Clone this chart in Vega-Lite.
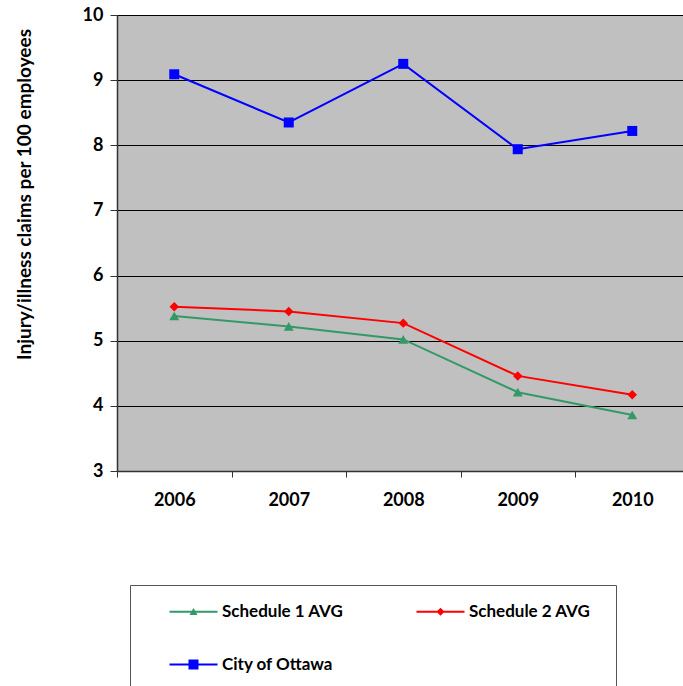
{
  "$schema": "https://vega.github.io/schema/vega-lite/v6.json",
  "width": 566,
  "height": 456,
  "autosize": {"type": "none"},
  "padding": {"left": 117, "top": 15, "right": 0, "bottom": 215},
  "background": "white",
  "config": {
    "view": {"fill": "#C0C0C0", "stroke": "#808080", "strokeWidth": 1},
    "font": "Lato"
  },
  "data": {
    "values": [
      {"series": "City of Ottawa", "year": "2006", "value": 9.09},
      {"series": "City of Ottawa", "year": "2007", "value": 8.35},
      {"series": "City of Ottawa", "year": "2008", "value": 9.25},
      {"series": "City of Ottawa", "year": "2009", "value": 7.94},
      {"series": "City of Ottawa", "year": "2010", "value": 8.22},
      {"series": "Schedule 2 AVG", "year": "2006", "value": 5.52},
      {"series": "Schedule 2 AVG", "year": "2007", "value": 5.45},
      {"series": "Schedule 2 AVG", "year": "2008", "value": 5.27},
      {"series": "Schedule 2 AVG", "year": "2009", "value": 4.46},
      {"series": "Schedule 2 AVG", "year": "2010", "value": 4.17},
      {"series": "Schedule 1 AVG", "year": "2006", "value": 5.38},
      {"series": "Schedule 1 AVG", "year": "2007", "value": 5.22},
      {"series": "Schedule 1 AVG", "year": "2008", "value": 5.02},
      {"series": "Schedule 1 AVG", "year": "2009", "value": 4.21},
      {"series": "Schedule 1 AVG", "year": "2010", "value": 3.86}
    ]
  },
  "encoding": {
    "x": {
      "field": "year", "type": "ordinal", "bandPosition": 0.5,
      "scale": {"type": "band", "range": [0, 572.5], "paddingInner": 0, "paddingOuter": 0},
      "axis": {
        "title": null, "labelAngle": 0, "tickBand": "extent", "grid": false,
        "domainColor": "#333333", "domainWidth": 1.5, "tickColor": "#333333", "tickSize": 6,
        "labelFont": "Lato", "labelFontSize": 18, "labelFontWeight": "bold", "labelColor": "black",
        "labelPadding": 14
      }
    },
    "y": {
      "field": "value", "type": "quantitative",
      "scale": {"domain": [3, 10], "nice": false, "zero": false},
      "axis": {
        "title": "Injury/illness claims per 100 employees",
        "values": [3, 4, 5, 6, 7, 8, 9, 10],
        "grid": true, "gridColor": "black", "gridWidth": 1,
        "domainColor": "#333333", "domainWidth": 1.5, "tickColor": "#333333", "tickSize": 7,
        "labelFont": "Lato", "labelFontSize": 18, "labelFontWeight": "bold", "labelColor": "black",
        "labelPadding": 7,
        "titleFont": "Lato", "titleFontSize": 19, "titleFontWeight": "bold", "titleColor": "black",
        "titleX": -93, "titleY": 179, "titleAngle": 270, "titleBaseline": "middle", "titleAlign": "center"
      }
    }
  },
  "layer": [
    {
      "transform": [{"filter": "datum.series == 'Schedule 1 AVG'"}],
      "mark": {"type": "line", "strokeWidth": 2, "color": "#339966"}
    },
    {
      "transform": [{"filter": "datum.series == 'Schedule 2 AVG'"}],
      "mark": {"type": "line", "strokeWidth": 2, "color": "#FF0000"}
    },
    {
      "transform": [{"filter": "datum.series == 'City of Ottawa'"}],
      "mark": {"type": "line", "strokeWidth": 2, "color": "#0000FF"}
    },
    {
      "transform": [{"filter": "datum.series == 'Schedule 1 AVG'"}],
      "mark": {"type": "point", "filled": true, "shape": "triangle-up", "size": 100, "color": "#339966", "opacity": 1}
    },
    {
      "transform": [{"filter": "datum.series == 'Schedule 2 AVG'"}],
      "mark": {"type": "point", "filled": true, "shape": "diamond", "size": 90, "color": "#FF0000", "opacity": 1}
    },
    {
      "transform": [{"filter": "datum.series == 'City of Ottawa'"}],
      "mark": {"type": "point", "filled": true, "shape": "square", "size": 100, "color": "#0000FF", "opacity": 1}
    },
    {
      "mark": {"type": "point", "filled": true, "opacity": 0, "size": 100},
      "encoding": {
        "color": {
          "field": "series", "type": "nominal",
          "scale": {"domain": ["Schedule 1 AVG", "Schedule 2 AVG", "City of Ottawa"], "range": ["#339966", "#FF0000", "#0000FF"]},
          "legend": {
            "orient": "none", "legendX": 13, "legendY": 570, "columns": 2, "direction": "horizontal",
            "padding": 18, "strokeColor": "#555555", "fillColor": "white",
            "symbolSize": 100, "symbolStrokeWidth": 0, "symbolOpacity": 1,
            "labelOffset": 57, "columnPadding": 51, "rowPadding": 35,
            "labelFont": "Lato", "labelFontSize": 17, "labelFontWeight": "bold", "labelColor": "black",
            "title": " ", "titleOrient": "right", "titlePadding": 8, "titleFontSize": 10
          }
        },
        "shape": {
          "field": "series", "type": "nominal",
          "scale": {
            "domain": ["Schedule 1 AVG", "Schedule 2 AVG", "City of Ottawa"],
            "range": [
              "M2.6,-0.2H12.2V0.2H2.6Z M7.4,-0.75L8.2,0.65L6.6,0.65Z",
              "M2.6,-0.2H12.2V0.2H2.6Z M7.4,-0.8L8.2,0L7.4,0.8L6.6,0Z",
              "M2.6,-0.2H12.2V0.2H2.6Z M6.4,-1H8.4V1H6.4Z"
            ]
          },
          "legend": {
            "orient": "none", "legendX": 13, "legendY": 570, "columns": 2, "direction": "horizontal",
            "padding": 18, "strokeColor": "#555555", "fillColor": "white",
            "symbolSize": 100, "symbolStrokeWidth": 0, "symbolOpacity": 1,
            "labelOffset": 57, "columnPadding": 51, "rowPadding": 35,
            "labelFont": "Lato", "labelFontSize": 17, "labelFontWeight": "bold", "labelColor": "black",
            "title": " ", "titleOrient": "right", "titlePadding": 8, "titleFontSize": 10
          }
        }
      }
    }
  ]
}
